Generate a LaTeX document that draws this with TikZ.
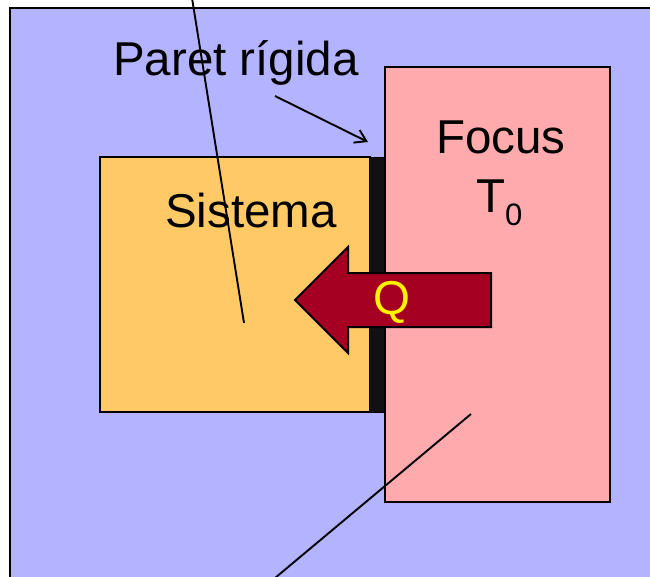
\documentclass[tikz,border=0pt]{standalone}
\usepackage{fontspec}
\setmainfont{Liberation Sans}
\usetikzlibrary{arrows.meta}
\definecolor{bgblue}{HTML}{B3B3FF}
\definecolor{sysorange}{HTML}{FFC966}
\definecolor{focpink}{HTML}{FFAAAD}
\definecolor{qred}{HTML}{A50021}
\definecolor{wallblack}{HTML}{111111}
\tikzset{
  boxstyle/.style={draw=black, line width=2pt},
  lbl/.style={font=\fontsize{47.5}{56}\selectfont, inner sep=0pt, anchor=base west},
  pointer/.style={draw=black, line width=1.9pt},
}
\begin{document}
\begin{tikzpicture}[x=1pt,y=-1pt]
\useasboundingbox (0,0) rectangle (650,576);
\clip (0,0) rectangle (650,576);
% background
\path[boxstyle, fill=bgblue] (10,8) rectangle (670,600);
% system box
\path[boxstyle, fill=sysorange] (100,157) rectangle (370,412);
% wall
\path[fill=wallblack, draw=black, line width=1pt] (369,157) rectangle (385,412);
% focus box
\path[boxstyle, fill=focpink] (385,67) rectangle (610,502);
% labels
\node[lbl] (paret) at (113,75) {Paret rígida};
\node[lbl] (sistema) at (165,227) {Sistema};
\node[lbl] (focus) at (436,153) {Focus};
\node[lbl] (temp) at (476,212) {T\raisebox{-0.28em}{\fontsize{31}{36}\selectfont 0}};
% big heat arrow
\path[draw=black, line width=2pt, fill=qred, line join=miter]
  (295,300) -- (348,247) -- (348,273) -- (491,273) -- (491,327) -- (348,327) -- (348,353) -- cycle;
\node[font=\fontsize{47.5}{56}\selectfont, text=yellow, inner sep=0pt] (q) at (392,302) {Q};
% pointer lines
\coordinate (l1a) at (192,-2);
\coordinate (l1b) at (244,323);
\draw[pointer] (l1a) -- (l1b);
\coordinate (l2a) at (471,414);
\coordinate (l2b) at (275,578);
\draw[pointer] (l2a) -- (l2b);
\coordinate (pa) at (275,96);
\coordinate (pb) at (368,142);
\draw[pointer, -{Straight Barb[length=11pt,width=14pt,line width=1.9pt]}] (pa) -- (pb);
\end{tikzpicture}
\end{document}
